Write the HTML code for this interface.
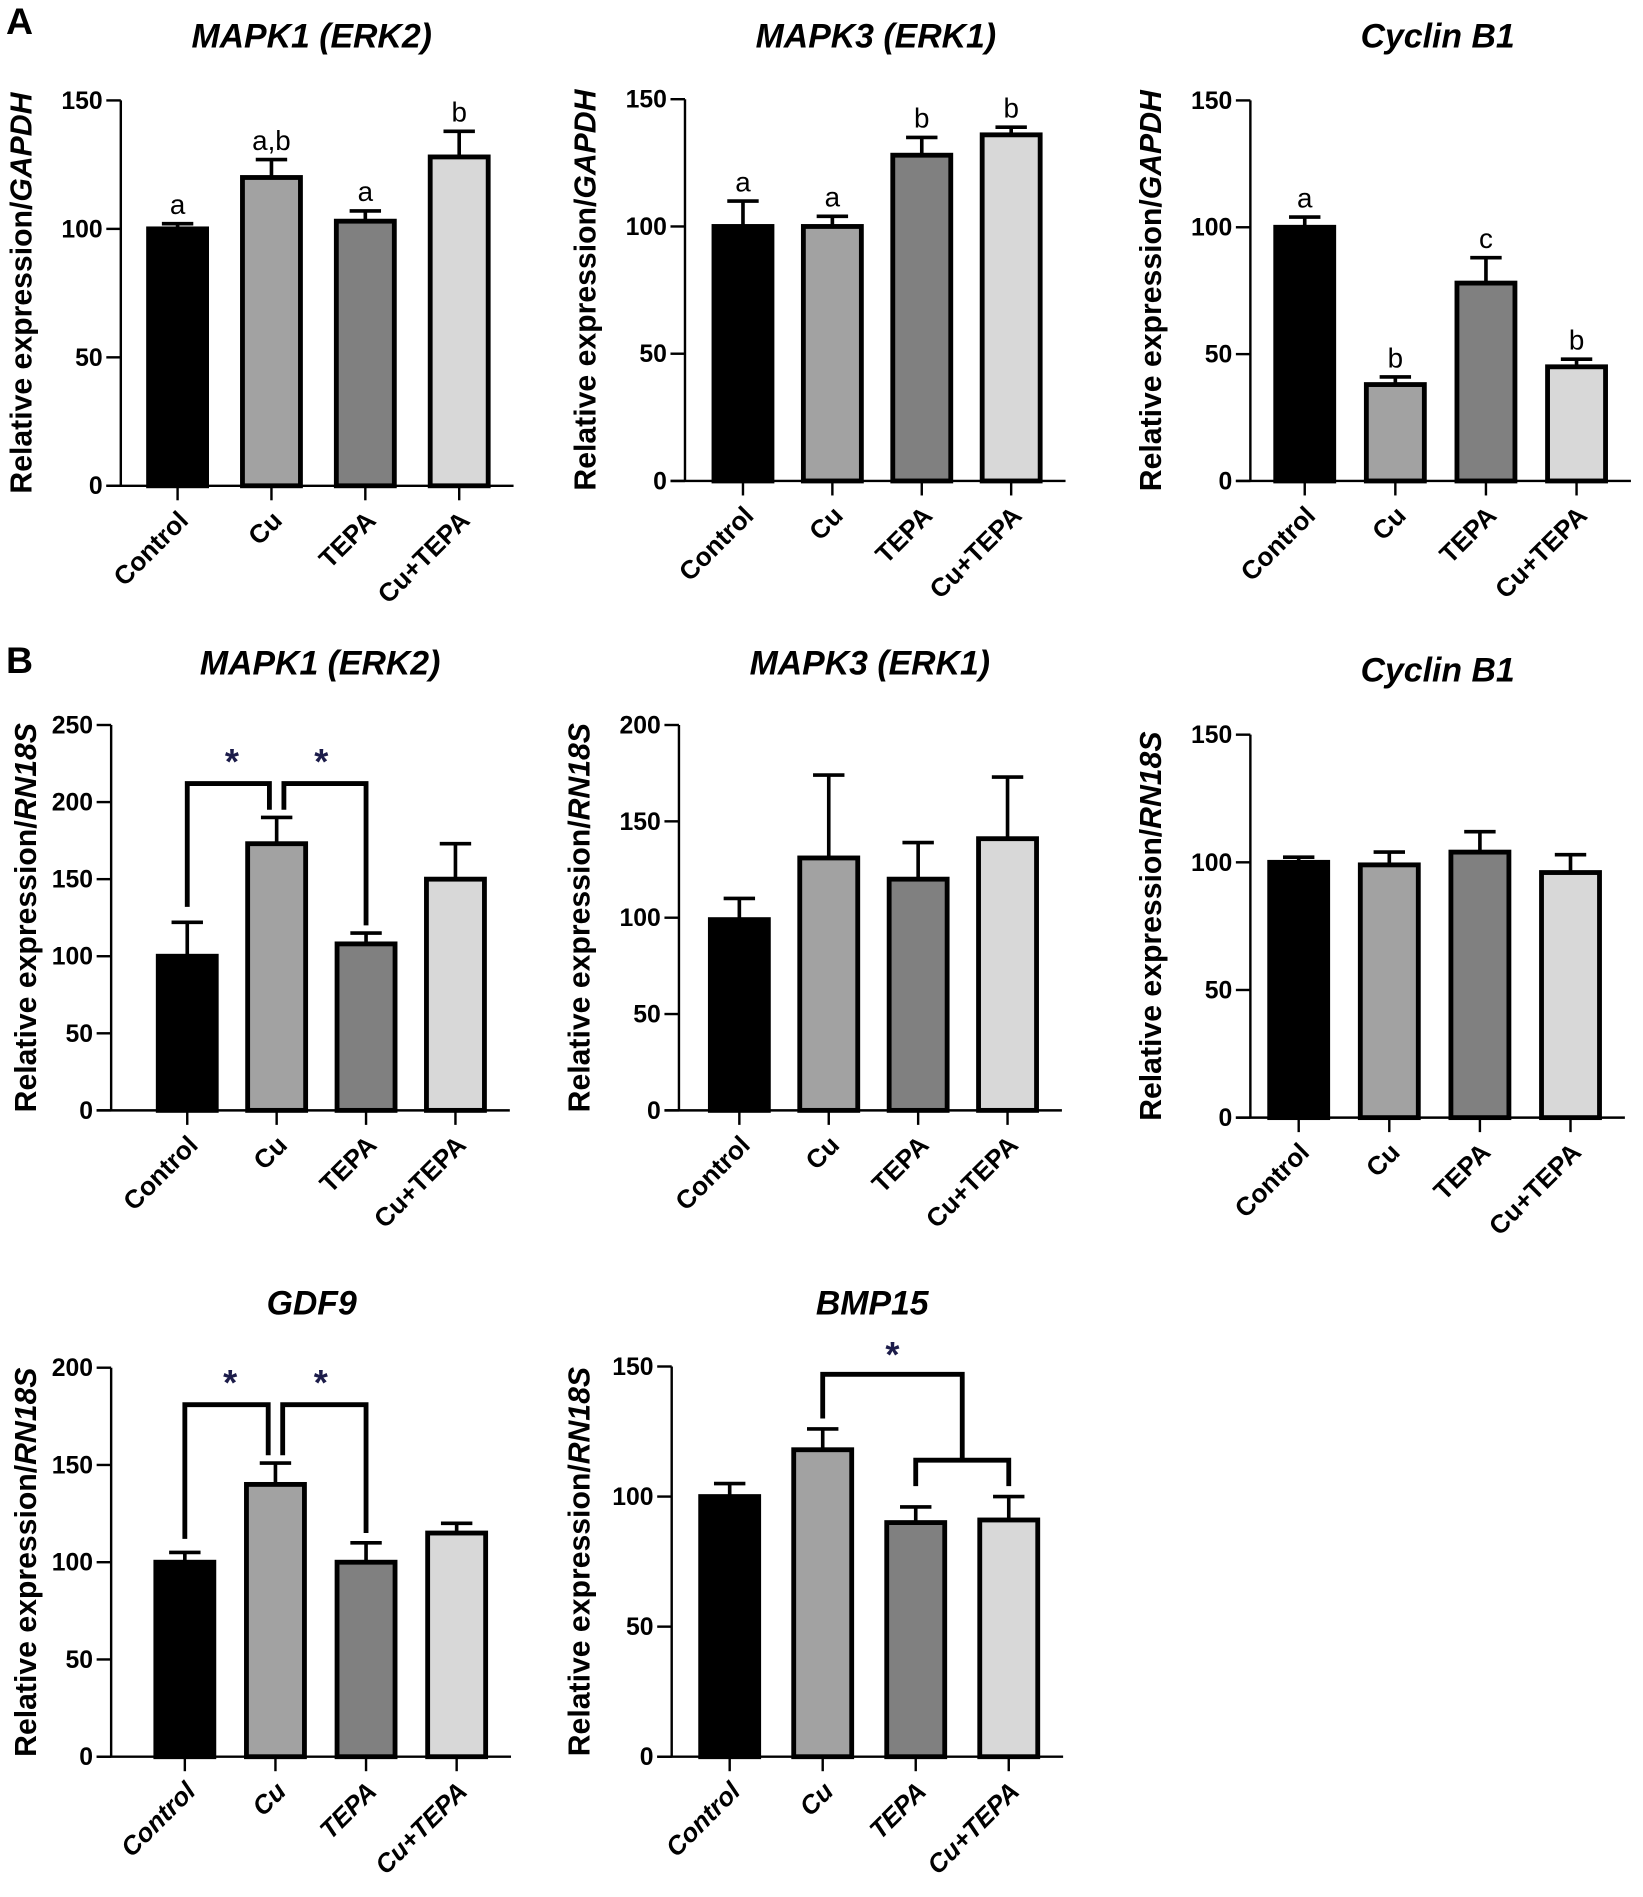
<!DOCTYPE html>
<html><head><meta charset="utf-8"><style>
html,body{margin:0;padding:0;background:#fff;}
svg{display:block;font-family:"Liberation Sans",Arial,sans-serif;}
</style></head><body>
<svg id="fig" width="1643" height="1897" viewBox="0 0 1360 1570" xmlns="http://www.w3.org/2000/svg">
<text x="5" y="28" font-size="31" font-weight="bold">A</text>
<text x="5" y="557" font-size="31" font-weight="bold">B</text>
</svg>
<script>
const categories = ["Control","Cu","TEPA","Cu+TEPA"];
const fills = ["#000000","#a2a2a2","#808080","#d8d8d8"];

const a1Values = [100,120,103,128];
const a1Errors = [102,127,107,138];
const a1Letters = ["a","a,b","a","b"];
const a1Ticks = [0,50,100,150];

const a2Values = [100,100,128,136];
const a2Errors = [110,104,135,139];
const a2Letters = ["a","a","b","b"];
const a2Ticks = [0,50,100,150];

const a3Values = [100,38,78,45];
const a3Errors = [104,41,88,48];
const a3Letters = ["a","b","c","b"];
const a3Ticks = [0,50,100,150];

const b1Values = [100,173,108,150];
const b1Errors = [122,190,115,173];
const b1Ticks = [0,50,100,150,200,250];

const b2Values = [99,131,120,141];
const b2Errors = [110,174,139,173];
const b2Ticks = [0,50,100,150,200];

const b3Values = [100,99,104,96];
const b3Errors = [102,104,112,103];
const b3Ticks = [0,50,100,150];

const b4Values = [100,140,100,115];
const b4Errors = [105,151,110,120];
const b4Ticks = [0,50,100,150,200];

const b5Values = [100,118,90,91];
const b5Errors = [105,126,96,100];
const b5Ticks = [0,50,100,150];

const NS = "http://www.w3.org/2000/svg";
const svg = document.getElementById("fig");
function mk(tag, attrs, parent){
  const e = document.createElementNS(NS, tag);
  for (const k in attrs) e.setAttribute(k, attrs[k]);
  (parent||svg).appendChild(e);
  return e;
}

const charts = [
 {id:"a1", title:"MAPK1 (ERK2)", gene:"GAPDH", ax:100, y0:402, yTop:83, max:150, c0:147, step:77.7, tx:258, ty:39, ytx:26, values:a1Values, errors:a1Errors, letters:a1Letters, ticks:a1Ticks, italicCats:false},
 {id:"a2", title:"MAPK3 (ERK1)", gene:"GAPDH", ax:567, y0:398, yTop:82, max:150, c0:615, step:74, tx:725, ty:39, ytx:493, values:a2Values, errors:a2Errors, letters:a2Letters, ticks:a2Ticks, italicCats:false},
 {id:"a3", title:"Cyclin B1", gene:"GAPDH", ax:1035, y0:398, yTop:83, max:150, c0:1080, step:75, tx:1190, ty:39, ytx:961, values:a3Values, errors:a3Errors, letters:a3Letters, ticks:a3Ticks, italicCats:false},
 {id:"b1", title:"MAPK1 (ERK2)", gene:"RN18S", ax:92, y0:919, yTop:600, max:250, c0:155, step:74, tx:265, ty:558, ytx:30, values:b1Values, errors:b1Errors, ticks:b1Ticks, italicCats:false},
 {id:"b2", title:"MAPK3 (ERK1)", gene:"RN18S", ax:562, y0:919, yTop:600, max:200, c0:612, step:74, tx:720, ty:558, ytx:488, values:b2Values, errors:b2Errors, ticks:b2Ticks, italicCats:false},
 {id:"b3", title:"Cyclin B1", gene:"RN18S", ax:1035, y0:925, yTop:608, max:150, c0:1075, step:75, tx:1190, ty:564, ytx:961, values:b3Values, errors:b3Errors, ticks:b3Ticks, italicCats:false},
 {id:"b4", title:"GDF9", gene:"RN18S", ax:92, y0:1454, yTop:1132, max:200, c0:153, step:75, tx:258, ty:1088, ytx:30, values:b4Values, errors:b4Errors, ticks:b4Ticks, italicCats:true},
 {id:"b5", title:"BMP15", gene:"RN18S", ax:556, y0:1454, yTop:1131, max:150, c0:604, step:77, tx:722, ty:1088, ytx:488, values:b5Values, errors:b5Errors, ticks:b5Ticks, italicCats:true}
];

function draw(c){
  const g = mk("g", {});
  
  
  const ys = v => c.y0 - v*(c.y0-c.yTop)/c.max;
  const xs = i => c.c0 + i*c.step;
  c.ys = ys; c.xs = xs;
  const t = mk("text", {x:c.tx, y:c.ty, "font-size":28, "font-weight":"bold", "font-style":"italic", "text-anchor":"middle"}, g);
  t.textContent = c.title;
  
  
  const mid = (c.y0 + c.yTop)/2;
  const yt = mk("text", {x:0, y:0, "font-size":25, "font-weight":"bold", "text-anchor":"middle", transform:`translate(${c.ytx},${mid}) rotate(-90)`}, g);
  
  
  yt.appendChild(document.createTextNode("Relative expression/"));
  const ts = mk("tspan", {"font-style":"italic"}, yt);
  ts.textContent = c.gene;
  c.values.forEach((v,i)=>{
    const cx = xs(i), w = 48;
    const top = ys(v);
    const r = mk("rect", {x:cx-w/2, y:top, width:w, height:c.y0-top, fill:fills[i], stroke:"#000", "stroke-width":4}, g);
    
    
    const et = ys(c.errors[i]);
    const e = mk("path", {d:`M${cx},${top} V${et} M${cx-13},${et} H${cx+13}`, stroke:"#000", "stroke-width":3, fill:"none"}, g);
    
    
    if (c.letters){
      const l = mk("text", {x:cx, y:et-8, "font-size":23, "text-anchor":"middle"}, g);
      l.textContent = c.letters[i];
      
      
    }
    mk("line", {x1:cx, y1:c.y0, x2:cx, y2:c.y0+12, stroke:"#000", "stroke-width":2}, g);
    const cl = mk("text", {x:0, y:0, "font-size":21.5, "font-weight":"bold", "text-anchor":"end", "font-style":c.italicCats?"italic":"normal", transform:`translate(${cx+10},${c.y0+30}) rotate(-45)`}, g);
    cl.textContent = categories[i];
    
    
  });
  const xEnd = xs(categories.length-1) + 45;
  const ax = mk("path", {d:`M${c.ax},${c.yTop} V${c.y0} M${c.ax-12},${c.y0} H${xEnd}`, stroke:"#000", "stroke-width":2, fill:"none"}, g);
  
  
  c.ticks.forEach(tv=>{
    const y = ys(tv);
    mk("line", {x1:c.ax-12, y1:y, x2:c.ax, y2:y, stroke:"#000", "stroke-width":2}, g);
    const tl = mk("text", {x:c.ax-15, y:y+7, "font-size":20.5, "font-weight":"bold", "text-anchor":"end"}, g);
    tl.textContent = tv;
    
    
  });
}
charts.forEach(draw);

function star(x,y){
  const s = mk("text", {x:x, y:y, "font-size":30, "font-weight":"bold", fill:"#1c1c4a", "text-anchor":"middle"});
  s.textContent = "*";
  
  
}
function bracket(d){
  const p = mk("path", {d:d, stroke:"#000", "stroke-width":4, fill:"none"});
  
  
}
(function(){
  const c = charts[3], ys=c.ys, xs=c.xs, by=ys(212);
  bracket(`M${xs(0)},${ys(132)} V${by} H${xs(1)-6} V${ys(195)}`);
  bracket(`M${xs(1)+6},${ys(195)} V${by} H${xs(2)} V${ys(120)}`);
  star((xs(0)+xs(1))/2, by-8); star((xs(1)+xs(2))/2, by-8);
})();
(function(){
  const c = charts[6], ys=c.ys, xs=c.xs, by=ys(181);
  bracket(`M${xs(0)},${ys(112)} V${by} H${xs(1)-6} V${ys(155)}`);
  bracket(`M${xs(1)+6},${ys(155)} V${by} H${xs(2)} V${ys(115)}`);
  star((xs(0)+xs(1))/2, by-8); star((xs(1)+xs(2))/2, by-8);
})();
(function(){
  const c = charts[7], ys=c.ys, xs=c.xs;
  const top = ys(147), mid = ys(114);
  const xm = (xs(2)+xs(3))/2;
  bracket(`M${xs(1)},${ys(130)} V${top} H${xm} V${mid}`);
  bracket(`M${xs(2)},${ys(104)} V${mid} H${xs(3)} V${ys(104)}`);
  star((xs(1)+xm)/2, top-6);
})();
</script>
</body></html>
